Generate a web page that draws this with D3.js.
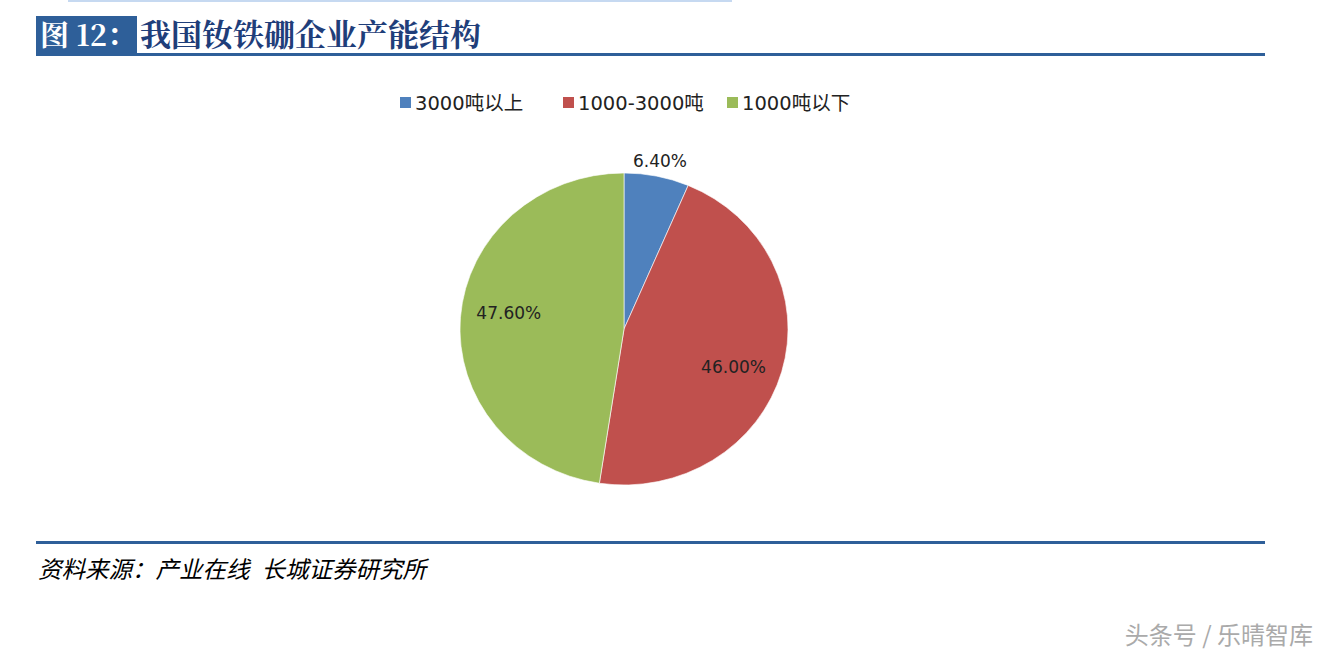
<!DOCTYPE html>
<html><head><meta charset="utf-8">
<script src="https://cdn.jsdelivr.net/npm/d3@7/dist/d3.min.js"></script>
<style>body{margin:0;background:#fff;}svg{display:block;}</style>
</head><body>
<svg id="c" width="1330" height="658"></svg>
<script>
const categories = ["3000吨以上", "1000-3000吨", "1000吨以下"];
const values = [6.4, 46.0, 47.6];
const valueLabels = ["6.40%", "46.00%", "47.60%"];
const colors = ["#4F81BD", "#C0504D", "#9BBB59"];

const svg = d3.select("#c");
const cjk = "'Noto Sans CJK SC', 'Noto Sans', sans-serif";
const serif = "'Noto Serif CJK SC','Liberation Serif', 'DejaVu Serif', serif";
const latin = "'DejaVu Sans','Noto Sans CJK SC',sans-serif";

// top faint line
svg.append("rect").attr("x",68).attr("y",0).attr("width",664).attr("height",2).attr("fill","#c6d9f1");
// title box
svg.append("rect").attr("x",36).attr("y",16).attr("width",101).attr("height",37).attr("fill","#2e5f99");
svg.append("text").attr("x",40).attr("y",46).attr("fill","#fff")
  .style("font-family",serif).style("font-size","29px").style("font-weight","bold").text("图 12：");
svg.append("text").attr("x",140).attr("y",46).attr("fill","#1f3e7a")
  .style("font-family",serif).style("font-size","31px").style("font-weight","bold").text("我国钕铁硼企业产能结构");
svg.append("rect").attr("x",36).attr("y",53).attr("width",1229).attr("height",3).attr("fill","#2e5f99");

// bottom line
svg.append("rect").attr("x",36).attr("y",541).attr("width",1229).attr("height",3).attr("fill","#2e5f99");
const src = svg.append("text").attr("x",38).attr("y",578).attr("fill","#000")
  .style("font-family",cjk).style("font-size","23.5px").style("font-style","italic");
src.append("tspan").text("资料来源：产业在线");
src.append("tspan").attr("dx",12).text("长城证券研究所");

// watermark
svg.append("text").attr("x",1313).attr("y",644).attr("text-anchor","end").attr("fill","#aaa")
  .style("font-family",cjk).style("font-size","24px").text("头条号 / 乐晴智库");

// legend
const legX = [400, 563, 727];
const lg = svg.append("g");
categories.forEach((c,i)=>{
  lg.append("rect").attr("x",legX[i]).attr("y",97).attr("width",11).attr("height",11).attr("fill",colors[i]);
  lg.append("text").attr("x",legX[i]+15).attr("y",110).attr("fill","#222")
    .style("font-family",latin).style("font-size","19.5px").text(c);
});

// pie
const cx = 624, cy = 329, ry = 156, rx = 164;
const pie = d3.pie().sort(null)(values);
const arc = d3.arc().innerRadius(0).outerRadius(ry);
const g = svg.append("g").attr("transform",`translate(${cx},${cy}) scale(${rx/ry},1)`);
g.selectAll("path").data(pie).join("path")
  .attr("d",arc).attr("fill",(d,i)=>colors[i]).attr("stroke","#fff").attr("stroke-width",0.6);

// labels
const labelShift = 4 * Math.PI / 180;
pie.forEach((d,i)=>{
  const mid = (d.startAngle + d.endAngle)/2 + (i===0 ? 0 : labelShift);
  const r = i===0 ? ry*1.1 : ry*0.71;
  const x = cx + Math.sin(mid)*r*rx/ry, y = cy - Math.cos(mid)*r;
  svg.append("text").attr("x",x).attr("y",y).attr("text-anchor","middle").attr("dominant-baseline","central")
    .attr("fill","#222").style("font-family",latin).style("font-size","17px")
    .text(valueLabels[i]);
});
</script>
</body></html>
